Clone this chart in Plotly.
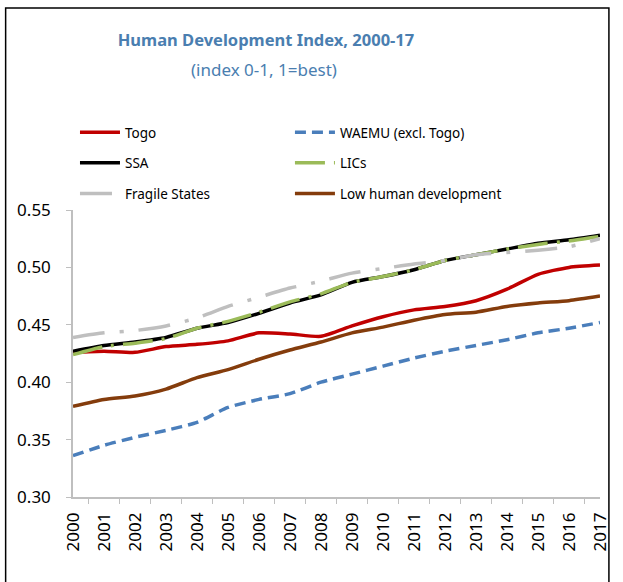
import plotly.graph_objects as go

years = [str(y) for y in range(2000, 2018)]

togo = [0.426, 0.427, 0.426, 0.431, 0.433, 0.436, 0.443, 0.442, 0.440, 0.449,
        0.457, 0.463, 0.466, 0.471, 0.481, 0.494, 0.500, 0.502]
waemu = [0.336, 0.345, 0.352, 0.358, 0.365, 0.378, 0.385, 0.390, 0.400, 0.407,
         0.414, 0.421, 0.427, 0.432, 0.437, 0.443, 0.447, 0.452]
ssa = [0.427, 0.432, 0.435, 0.439, 0.447, 0.452, 0.460, 0.469, 0.476, 0.487,
       0.492, 0.498, 0.506, 0.511, 0.516, 0.521, 0.524, 0.528]
lics = [0.424, 0.431, 0.434, 0.438, 0.447, 0.453, 0.461, 0.470, 0.477, 0.487,
        0.492, 0.498, 0.506, 0.511, 0.516, 0.520, 0.523, 0.527]
fragile = [0.439, 0.443, 0.445, 0.449, 0.456, 0.466, 0.474, 0.482, 0.488, 0.495,
           0.499, 0.503, 0.506, 0.511, 0.513, 0.515, 0.518, 0.525]
low_hd = [0.379, 0.385, 0.388, 0.394, 0.404, 0.411, 0.420, 0.428, 0.435, 0.443,
          0.448, 0.454, 0.459, 0.461, 0.466, 0.469, 0.471, 0.475]

series = [
    # name, values, colour, dash, legend
    ("Togo", togo, "#C00000", "solid", "legend"),
    ("WAEMU (excl. Togo)", waemu, "#4A7EBB", "11px,6px", "legend2"),
    ("SSA", ssa, "#000000", "solid", "legend"),
    ("LICs", lics, "#9BBB59", "30px,9px,3px,9px", "legend2"),
    ("Fragile States", fragile, "#BFBFBF", "32px,15px,4px,15px", "legend"),
    ("Low human development", low_hd, "#843C0C", "solid", "legend2"),
]

font = "Noto Sans"
W, H = 623, 582
L, R, T, B = 73, 18, 210, 85
pw, ph = W - L - R, H - T - B


def px(x):
    return (x - L) / pw


def py(y):
    return (H - B - y) / ph


fig = go.Figure()
for i, (name, vals, col, dash, leg) in enumerate(series):
    fig.add_trace(go.Scatter(
        x=years, y=vals, name=name, mode="lines",
        line=dict(color=col, width=3.5, dash=dash, shape="spline", smoothing=0.6),
        legend=leg, legendgroup=str(i),
    ))

legend_style = dict(
    orientation="v", xanchor="left", yanchor="top",
    font=dict(family=font, size=13.5, color="black"),
    bgcolor="rgba(0,0,0,0)", tracegroupgap=10, itemwidth=40,
)

fig.update_layout(
    width=W, height=H,
    margin=dict(l=L, r=R, t=T, b=B),
    paper_bgcolor="white", plot_bgcolor="white",
    font=dict(family=font, size=16, color="black"),
    title=dict(
        text="<b>Human Development Index, 2000-17</b>",
        x=266 / W, xanchor="center", y=1 - 40 / H, yanchor="middle",
        font=dict(family=font, size=16.5, color="#4A7EB0"),
    ),
    annotations=[dict(
        text="(index 0-1, 1=best)", xref="paper", yref="paper",
        x=px(266), y=py(69), xanchor="center", yanchor="middle",
        showarrow=False, font=dict(family=font, size=17, color="#4A7EB0"),
    )],
    legend=dict(x=px(75), y=py(117), **legend_style),
    legend2=dict(x=px(292), y=py(117), **legend_style),
    showlegend=True,
    xaxis=dict(
        type="category", tickangle=-90, tickson="boundaries",
        ticks="outside", ticklen=5, tickcolor="#BFBFBF",
        showline=True, linecolor="#BFBFBF", linewidth=1.5,
        showgrid=False, ticklabelstandoff=7,
        tickfont=dict(family=font, size=17),
    ),
    yaxis=dict(
        range=[0.30, 0.55], tickvals=[0.30, 0.35, 0.40, 0.45, 0.50, 0.55],
        tickformat=".2f", ticks="outside", ticklen=5, tickcolor="#BFBFBF",
        showline=True, linecolor="#BFBFBF", linewidth=1.5,
        showgrid=False, zeroline=False, ticklabelstandoff=12,
        tickfont=dict(family=font, size=17),
    ),
    shapes=[dict(
        type="rect", xref="paper", yref="paper",
        x0=px(5), x1=px(614), y0=py(600), y1=py(8),
        line=dict(color="black", width=1.5), layer="below",
    )],
)

fig.write_html("out.html", config={"displayModeBar": False},
               post_script="document.body.style.margin='0px';")
